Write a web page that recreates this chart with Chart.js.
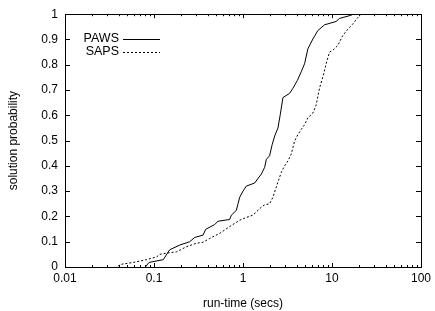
<!DOCTYPE html>
<html>
<head>
<meta charset="utf-8">
<script src="https://cdn.jsdelivr.net/npm/chart.js@4.4.0/dist/chart.umd.min.js"></script>
<style>
  html, body { margin: 0; padding: 0; background: #fff; }
  canvas { display: block; }
</style>
</head>
<body>
<canvas id="chart" width="435" height="311"></canvas>
<script>
// run-time (secs) vs solution probability
const pawsTime = [0.080, 0.088, 0.127, 0.150, 0.195, 0.252, 0.287, 0.356, 0.381, 0.481, 0.524, 0.709, 0.740, 0.842, 0.879, 0.918, 1.00, 1.09, 1.35, 1.61, 1.75, 1.83, 1.99, 2.13, 2.27, 2.47, 2.62, 2.81, 3.34, 3.64, 4.07, 4.51, 4.92, 5.36, 6.10, 6.93, 8.24, 11.1, 12.1, 16.4, 17.1];
const pawsProb = [0.0, 0.018, 0.029, 0.068, 0.087, 0.10, 0.117, 0.126, 0.149, 0.168, 0.181, 0.188, 0.205, 0.224, 0.25, 0.276, 0.30, 0.32, 0.332, 0.368, 0.394, 0.426, 0.44, 0.485, 0.518, 0.55, 0.602, 0.67, 0.687, 0.707, 0.737, 0.772, 0.804, 0.863, 0.902, 0.935, 0.958, 0.971, 0.983, 0.996, 1.0];

const sapsTime = [0.0396, 0.0414, 0.0584, 0.0824, 0.107, 0.116, 0.138, 0.179, 0.231, 0.300, 0.356, 0.423, 0.481, 0.547, 0.709, 0.918, 1.09, 1.29, 1.61, 1.75, 1.99, 2.17, 2.36, 2.69, 2.93, 3.20, 3.48, 3.80, 4.14, 4.51, 4.92, 5.36, 6.10, 6.64, 7.24, 7.89, 8.60, 9.38, 10.2, 11.6, 13.2, 15.1, 17.1, 19.5, 21.2];
const sapsProb = [0.003, 0.01, 0.018, 0.029, 0.04, 0.05, 0.055, 0.06, 0.08, 0.094, 0.098, 0.113, 0.123, 0.133, 0.16, 0.185, 0.196, 0.205, 0.237, 0.246, 0.25, 0.276, 0.315, 0.374, 0.40, 0.42, 0.446, 0.498, 0.524, 0.544, 0.563, 0.59, 0.609, 0.641, 0.707, 0.752, 0.804, 0.85, 0.857, 0.876, 0.915, 0.941, 0.961, 0.987, 1.0];

const xTicks = [0.01, 0.1, 1, 10, 100];
const xTickLabels = ['0.01', '0.1', '1', '10', '100'];
const yTicks = [0, 0.1, 0.2, 0.3, 0.4, 0.5, 0.6, 0.7, 0.8, 0.9, 1];

const FONT = 'Liberation Sans, Arial, Helvetica, sans-serif';

const toPoints = (xs, ys) => xs.map((x, i) => ({ x, y: ys[i] }));

// gnuplot style frame with inward ticks on every side
const framePlugin = {
    id: 'frame',
    afterDatasetsDraw(chart) {
        const { ctx, chartArea: a, scales } = chart;
        const xs = scales.x, ys = scales.y;
        ctx.save();
        ctx.strokeStyle = '#000';
        ctx.lineWidth = 1;
        ctx.beginPath();
        yTicks.forEach(v => {
            const py = Math.round(ys.getPixelForValue(v)) + 0.5;
            ctx.moveTo(a.left, py); ctx.lineTo(a.left + 5, py);
            ctx.moveTo(a.right, py); ctx.lineTo(a.right - 5, py);
        });
        xTicks.forEach((v, i) => {
            const px = Math.round(xs.getPixelForValue(v)) + 0.5;
            ctx.moveTo(px, a.bottom); ctx.lineTo(px, a.bottom - 4);
            ctx.moveTo(px, a.top); ctx.lineTo(px, a.top + 4);
            if (i < xTicks.length - 1) {
                for (let m = 2; m <= 9; m++) {
                    const mx = Math.round(xs.getPixelForValue(v * m)) + 0.5;
                    ctx.moveTo(mx, a.bottom); ctx.lineTo(mx, a.bottom - 2);
                    ctx.moveTo(mx, a.top); ctx.lineTo(mx, a.top + 2);
                }
            }
        });
        ctx.stroke();
        ctx.strokeRect(Math.round(a.left) + 0.5, Math.round(a.top) + 0.5,
            Math.round(a.right - a.left), Math.round(a.bottom - a.top));
        ctx.restore();
    }
};

// key inside the plot, text on the left of the line sample
const keyPlugin = {
    id: 'key',
    afterDatasetsDraw(chart) {
        const { ctx, chartArea: a } = chart;
        ctx.save();
        ctx.font = '12.5px ' + FONT;
        ctx.fillStyle = '#000';
        ctx.textAlign = 'right';
        ctx.textBaseline = 'middle';
        chart.data.datasets.forEach((ds, i) => {
            const y = a.top + 24.5 + i * 13;
            ctx.fillText(ds.label, a.left + 54, y);
            ctx.beginPath();
            ctx.setLineDash(ds.borderDash || []);
            ctx.strokeStyle = ds.borderColor;
            ctx.lineWidth = 1;
            ctx.moveTo(a.left + 58, Math.round(y) + 0.5);
            ctx.lineTo(a.left + 95, Math.round(y) + 0.5);
            ctx.stroke();
        });
        ctx.restore();
    }
};

const ctx = document.getElementById('chart').getContext('2d');
new Chart(ctx, {
    type: 'scatter',
    data: {
        datasets: [{
            label: 'PAWS',
            data: toPoints(pawsTime, pawsProb),
            showLine: true,
            borderColor: '#000',
            borderWidth: 1,
            pointRadius: 0,
            tension: 0
        }, {
            label: 'SAPS',
            data: toPoints(sapsTime, sapsProb),
            showLine: true,
            borderColor: '#000',
            borderWidth: 1,
            borderDash: [2, 2],
            pointRadius: 0,
            tension: 0
        }]
    },
    options: {
        responsive: false,
        animation: false,
        devicePixelRatio: 1,
        layout: { padding: { top: 12, right: 13, left: 0, bottom: 0 } },
        plugins: {
            legend: { display: false },
            tooltip: { enabled: false }
        },
        scales: {
            x: {
                type: 'logarithmic',
                min: 0.01,
                max: 100,
                afterBuildTicks: s => { s.ticks = xTicks.map(v => ({ value: v })); },
                afterFit: s => { s.height = 44; },
                ticks: {
                    color: '#000',
                    font: { family: FONT, size: 12 },
                    padding: 4,
                    maxRotation: 0,
                    autoSkip: false,
                    callback: v => xTickLabels[xTicks.indexOf(v)] ?? ''
                },
                grid: { display: false, drawTicks: false },
                border: { display: false },
                title: {
                    display: true,
                    text: 'run-time (secs)',
                    color: '#000',
                    font: { family: FONT, size: 12 },
                    padding: { top: 5, bottom: 0 }
                }
            },
            y: {
                min: 0,
                max: 1,
                afterBuildTicks: s => { s.ticks = yTicks.map(v => ({ value: v })); },
                afterFit: s => { s.width = 65; },
                ticks: {
                    color: '#000',
                    font: { family: FONT, size: 12 },
                    padding: 7,
                    callback: v => String(+v.toFixed(1))
                },
                grid: { display: false, drawTicks: false },
                border: { display: false },
                title: {
                    display: true,
                    text: 'solution probability',
                    color: '#000',
                    font: { family: FONT, size: 12 },
                    padding: { top: 6, bottom: 0 }
                }
            }
        }
    },
    plugins: [framePlugin, keyPlugin]
});
</script>
</body>
</html>
